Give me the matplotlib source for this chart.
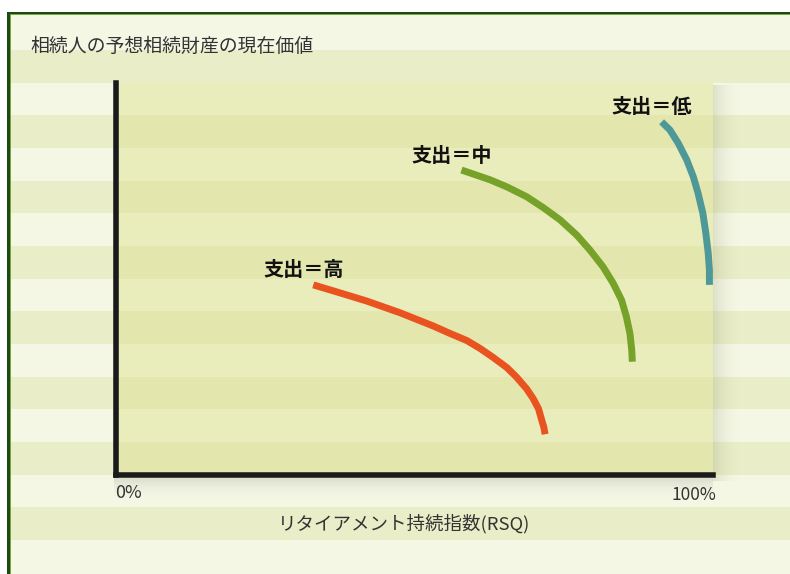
import matplotlib.pyplot as plt
from matplotlib.patches import Rectangle

plt.rcParams["font.family"] = ["Noto Sans CJK JP", "DejaVu Sans"]

# -----------------------------------------------------------------------------
# Data
# -----------------------------------------------------------------------------

TITLE = "相続人の予想相続財産の現在価値"
X_LABEL = "リタイアメント持続指数(RSQ)"
X_TICK_LABELS = ["0%", "100%"]

SERIES_LABELS = ["支出＝高", "支出＝中", "支出＝低"]

high_x = [33.1, 36.4, 39.2, 42.0, 44.8, 47.6, 50.4, 53.2, 56.0, 58.8,
          61.0, 63.2, 65.5, 67.1, 68.8, 69.9, 70.8, 71.3, 71.7, 71.9]
high_y = [48.5, 47.0, 45.7, 44.4, 42.9, 41.4, 39.7, 38.0, 36.1, 34.3,
          32.3, 30.0, 27.4, 25.0, 22.0, 19.5, 16.9, 14.2, 12.1, 10.4]

mid_x = [57.9, 60.4, 62.7, 65.5, 68.8, 71.6, 74.4, 77.2,
         79.4, 81.6, 83.3, 84.7, 85.5, 86.1, 86.4, 86.5]
mid_y = [77.8, 76.5, 75.3, 73.5, 71.0, 68.2, 65.1, 61.2,
         57.4, 53.1, 48.9, 44.6, 40.4, 36.1, 31.9, 28.9]

low_x = [91.4, 92.8, 94.2, 95.6, 96.7, 97.5, 98.3, 98.8, 99.2, 99.4, 99.4]
low_y = [90.1, 88.0, 84.6, 80.4, 76.1, 71.9, 66.8, 61.7, 56.6, 52.3, 48.5]

# -----------------------------------------------------------------------------
# Style
# -----------------------------------------------------------------------------

W, H = 790, 574
COLORS = ["#e9531f", "#76a22a", "#4f9898"]
CREAM = "#f4f7e4"
STRIPE = "#e9eec8"
PLOT_TINT = "#e0e294"
BORDER = "#1d4a0f"
TEXT = "#333333"

# plot box in pixels (left, top, right, bottom)
PX_L, PX_T, PX_R, PX_B = 115.5, 83, 713, 475

fig = plt.figure(figsize=(W / 100, H / 100), dpi=100)

# -----------------------------------------------------------------------------
# Background: stripes, border, plot tint and shadow
# -----------------------------------------------------------------------------

bg = fig.add_axes([0, 0, 1, 1])
bg.set_xlim(0, W)
bg.set_ylim(H, 0)
bg.axis("off")

bg.add_patch(Rectangle((0, 0), W, H, color="white", lw=0))
bg.add_patch(Rectangle((8, 12), W, H, color=CREAM, lw=0))

stripe_h = 32.67
for i in range(0, 16, 2):
    y0 = 50 + i * stripe_h
    bg.add_patch(Rectangle((8, y0), W, stripe_h, color=STRIPE, lw=0))

# shadow on the right and below the plot box
n = 28
for i in range(n):
    a = 0.16 * (1 - i / n) ** 2
    bg.add_patch(Rectangle((PX_R + i, PX_T + 2), 1, PX_B - PX_T + 4,
                           color="#6b6b40", alpha=a, lw=0))
for i in range(22):
    a = 0.16 * (1 - i / 22) ** 2
    bg.add_patch(Rectangle((PX_L - 2, PX_B + 3 + i), PX_R - PX_L + 2, 1,
                           color="#5a5a5a", alpha=a, lw=0))

bg.add_patch(Rectangle((PX_L, PX_T), PX_R - PX_L, PX_B - PX_T,
                       color=PLOT_TINT, alpha=0.5, lw=0))

# frame border
bg.add_patch(Rectangle((7, 11.5), W, 2.5, color=BORDER, lw=0))
bg.add_patch(Rectangle((7, 11.5), 2.5, H, color=BORDER, lw=0))
bg.add_patch(Rectangle((9.5, 14), W, 1, color="#7aa34a", lw=0))
bg.add_patch(Rectangle((9.5, 14), 1, H, color="#7aa34a", lw=0))

bg.text(30, 46, TITLE, fontsize=13.6, color=TEXT, ha="left", va="center")
bg.text(404, 524, X_LABEL, fontsize=13.3, color=TEXT, ha="center", va="center")

# -----------------------------------------------------------------------------
# Plot
# -----------------------------------------------------------------------------

ax = fig.add_axes([PX_L / W, 1 - PX_B / H,
                   (PX_R - PX_L) / W, (PX_B - PX_T) / H])
ax.set_facecolor("none")
ax.set_xlim(0, 100)
ax.set_ylim(0, 100)

for xs, ys, color, label in zip([high_x, mid_x, low_x],
                                [high_y, mid_y, low_y],
                                COLORS, SERIES_LABELS):
    ax.plot(xs, ys, color=color, lw=5, solid_capstyle="butt",
            solid_joinstyle="round", clip_on=False)
    ax.annotate(label, (xs[0], ys[0]), textcoords="offset pixels",
                xytext=(-10, 15), ha="center", va="center",
                fontsize=14.5, fontweight="bold", color="#111111")

for side in ["top", "right"]:
    ax.spines[side].set_visible(False)
for side in ["left", "bottom"]:
    ax.spines[side].set_color("#1a1a1a")
    ax.spines[side].set_linewidth(4)
    ax.spines[side].set_capstyle("projecting")

ax.set_xticks([])
ax.set_yticks([])

ax.text(0, -0.045, X_TICK_LABELS[0], transform=ax.transAxes,
        ha="left", va="center", fontsize=13, color=TEXT)
ax.text(1.005, -0.051, X_TICK_LABELS[1], transform=ax.transAxes,
        ha="right", va="center", fontsize=12.5, color=TEXT)

fig.savefig("out.png", dpi=100)
